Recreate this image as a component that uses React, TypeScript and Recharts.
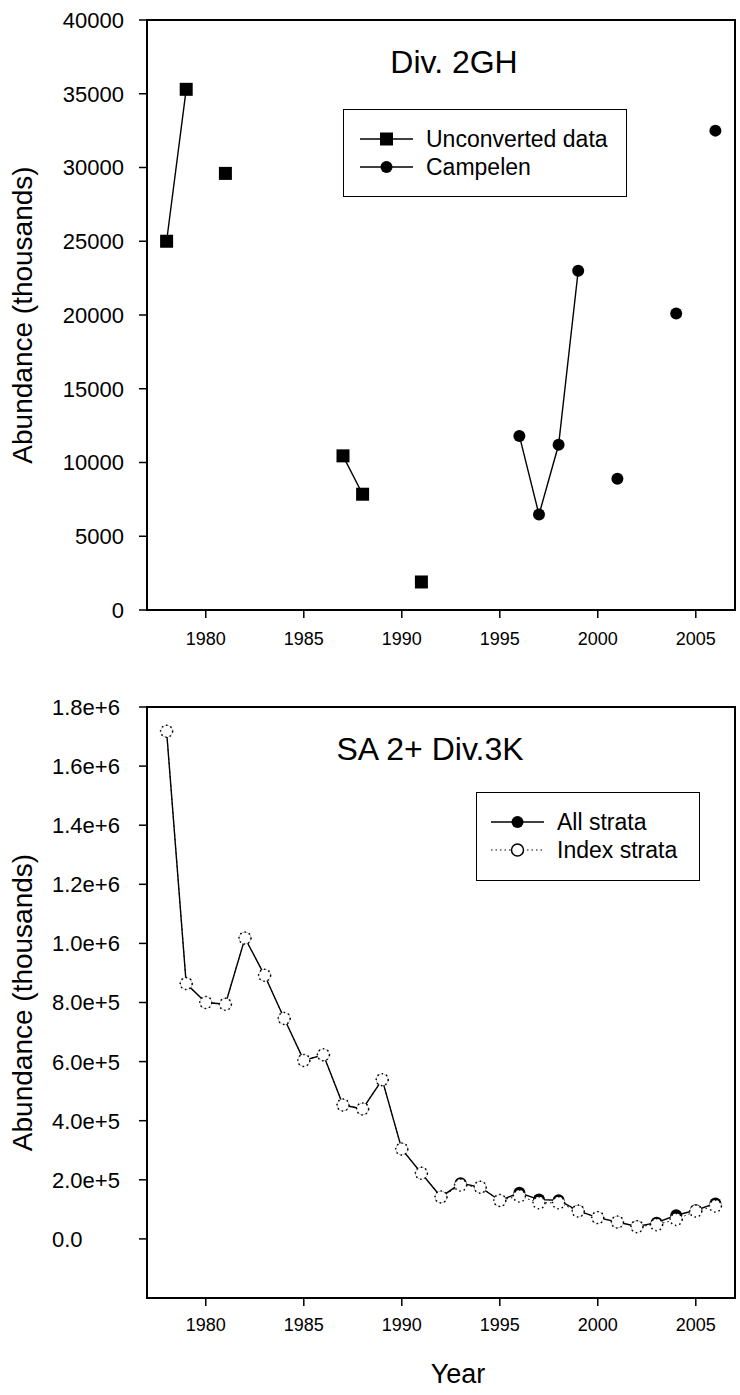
import React from "react";
import { LineChart, Line, XAxis, YAxis, ReferenceArea, Legend } from "recharts";

// Div. 2GH survey
const years2GH = [1978, 1979, 1980, 1981, 1982, 1983, 1984, 1985, 1986, 1987, 1988, 1989, 1990, 1991, 1992, 1993, 1994, 1995, 1996, 1997, 1998, 1999, 2000, 2001, 2002, 2003, 2004, 2005, 2006];
const unconverted = [25000, 35300, null, 29600, null, null, null, null, null, 10450, 7850, null, null, 1900, null, null, null, null, null, null, null, null, null, null, null, null, null, null, null];
const campelen = [null, null, null, null, null, null, null, null, null, null, null, null, null, null, null, null, null, null, 11800, 6470, 11200, 23000, null, 8900, null, null, 20100, null, 32500];

// SA 2+ Div.3K survey
const years3K = [1978, 1979, 1980, 1981, 1982, 1983, 1984, 1985, 1986, 1987, 1988, 1989, 1990, 1991, 1992, 1993, 1994, 1995, 1996, 1997, 1998, 1999, 2000, 2001, 2002, 2003, 2004, 2005, 2006];
const allStrata = [1718000, 864000, 800000, 794000, 1018000, 892000, 746000, 604000, 623000, 453000, 440000, 539000, 304000, 222000, 142000, 188000, 175000, 130000, 156000, 133000, 131000, 95000, 72000, 57000, 42000, 55000, 80000, 97000, 120000];
const indexStrata = [1718000, 864000, 800000, 794000, 1018000, 892000, 746000, 604000, 623000, 453000, 440000, 539000, 304000, 222000, 142000, 182000, 175000, 130000, 145000, 122000, 122000, 94000, 72000, 57000, 41500, 48000, 66000, 94000, 111000];

const yearTicks = [1980, 1985, 1990, 1995, 2000, 2005];
const ticks2GH = [0, 5000, 10000, 15000, 20000, 25000, 30000, 35000, 40000];
const ticks3K = [0, 200000, 400000, 600000, 800000, 1000000, 1200000, 1400000, 1600000, 1800000];

const data2GH = years2GH.map((year, i) => ({ year, unconverted: unconverted[i], campelen: campelen[i] }));
const data3K = years3K.map((year, i) => ({ year, all: allStrata[i], index: indexStrata[i] }));

const FONT = "'Liberation Sans', Arial, sans-serif";

const fmtSci = (v: number) => (v === 0 ? "0.0" : v.toExponential(1));

const SquareDot = (props: any) => {
  const { cx, cy, index } = props;
  if (cx == null || cy == null) return <g key={`sq-${index}`} />;
  return <rect key={`sq-${index}`} x={cx - 6.5} y={cy - 6.5} width={13} height={13} fill="#000" />;
};

function LegendRow({ marker, label, dotted }: { marker: "square" | "circle" | "open"; label: string; dotted?: boolean }) {
  return (
    <div style={{ display: "flex", alignItems: "center", height: 28 }}>
      <svg width={53} height={16}>
        <line x1={0} x2={53} y1={8} y2={8} stroke="#000" strokeWidth={dotted ? 1 : 1.5} strokeDasharray={dotted ? "1.5 3" : undefined} />
        {marker === "square" && <rect x={20} y={1.5} width={13} height={13} fill="#000" />}
        {marker === "circle" && <circle cx={26.5} cy={8} r={6} fill="#000" />}
        {marker === "open" && <circle cx={26.5} cy={8} r={6} fill="#fff" stroke="#000" strokeWidth={1.5} />}
      </svg>
      <span style={{ fontSize: 23, marginLeft: 13, lineHeight: 1 }}>{label}</span>
    </div>
  );
}

const legend2GH = () => (
  <div style={{ width: 284, height: 88, border: "1.5px solid #000", boxSizing: "border-box", background: "#fff", paddingTop: 15, paddingLeft: 16, fontFamily: FONT }}>
    <LegendRow marker="square" label="Unconverted data" />
    <LegendRow marker="circle" label="Campelen" />
  </div>
);

const legend3K = () => (
  <div style={{ width: 224, height: 89, border: "1.5px solid #000", boxSizing: "border-box", background: "#fff", paddingTop: 15, paddingLeft: 14, fontFamily: FONT }}>
    <LegendRow marker="circle" label="All strata" />
    <LegendRow marker="open" label="Index strata" dotted />
  </div>
);

const axisProps = { stroke: "#000", strokeWidth: 2 };
const tickLineProps = { stroke: "#000", strokeWidth: 1.5 };

const yTitle = {
  value: "Abundance (thousands)",
  angle: -90,
  position: "insideLeft" as const,
  offset: 22,
  style: { textAnchor: "middle" as const, fontSize: 28, fill: "#000", fontFamily: FONT },
};

export default function App() {
  return (
    <div style={{ position: "absolute", left: 0, top: 0, width: 740, height: 1395, background: "#fff", fontFamily: FONT }}>
      <div style={{ position: "absolute", left: 0, top: 0 }}>
        <LineChart width={740} height={660} data={data2GH} margin={{ top: 20, right: 5, bottom: 0, left: 0 }}>
          <XAxis
            dataKey="year"
            type="number"
            domain={[1977, 2007]}
            ticks={yearTicks}
            height={50}
            tickSize={8}
            tickMargin={14}
            axisLine={axisProps}
            tickLine={tickLineProps}
            tick={{ fontSize: 18, fill: "#000", fontFamily: FONT }}
          />
          <YAxis
            type="number"
            domain={[0, 40000]}
            ticks={ticks2GH}
            width={147}
            tickSize={8}
            tickMargin={15}
            axisLine={axisProps}
            tickLine={tickLineProps}
            tick={{ fontSize: 22, fill: "#000", fontFamily: FONT }}
            label={yTitle}
          />
          <ReferenceArea x1={1977} x2={2007} y1={0} y2={40000} fill="none" stroke="#000" strokeWidth={2} />
          <Legend layout="horizontal" verticalAlign="middle" align="center" content={legend2GH} wrapperStyle={{ left: 343, top: 109, width: 284, height: 88 }} />
          <Line dataKey="unconverted" stroke="#000" strokeWidth={1.4} dot={SquareDot} activeDot={false} connectNulls={false} isAnimationActive={false} />
          <Line dataKey="campelen" stroke="#000" strokeWidth={1.4} dot={{ r: 6, fill: "#000", stroke: "#000", strokeWidth: 0 }} activeDot={false} connectNulls={false} isAnimationActive={false} />
        </LineChart>
      </div>
      <div style={{ position: "absolute", left: 354, top: 46, width: 200, textAlign: "center", fontSize: 32, lineHeight: 1 }}>Div. 2GH</div>

      <div style={{ position: "absolute", left: 0, top: 660 }}>
        <LineChart width={740} height={735} data={data3K} margin={{ top: 47, right: 5, bottom: 0, left: 0 }}>
          <XAxis
            dataKey="year"
            type="number"
            domain={[1977, 2007]}
            ticks={yearTicks}
            height={97}
            tickSize={8}
            tickMargin={12}
            axisLine={axisProps}
            tickLine={tickLineProps}
            tick={{ fontSize: 18, fill: "#000", fontFamily: FONT }}
            label={{ value: "Year", position: "insideBottom", offset: 12, dx: 17, style: { fontSize: 27, fill: "#000", fontFamily: FONT } }}
          />
          <YAxis
            type="number"
            domain={[-200000, 1800000]}
            ticks={ticks3K}
            width={147}
            tickSize={8}
            tickMargin={15}
            axisLine={axisProps}
            tickLine={tickLineProps}
            tick={(p: any) => (
              <text x={p.x - 72} y={p.y} dy="0.36em" textAnchor="start" fontSize={22} fill="#000" fontFamily={FONT}>
                {fmtSci(p.payload.value)}
              </text>
            )}
            label={yTitle}
          />
          <ReferenceArea x1={1977} x2={2007} y1={-200000} y2={1800000} fill="none" stroke="#000" strokeWidth={2} />
          <Legend layout="horizontal" verticalAlign="middle" align="center" content={legend3K} wrapperStyle={{ left: 476, top: 132, width: 224, height: 89 }} />
          <Line dataKey="all" stroke="#000" strokeWidth={1.4} dot={{ r: 6, fill: "#000", stroke: "#000", strokeWidth: 0 }} activeDot={false} isAnimationActive={false} />
          <Line dataKey="index" stroke="#000" strokeWidth={1} strokeDasharray="1.5 3" dot={{ r: 6, fill: "#fff", stroke: "#000", strokeWidth: 1.5 }} activeDot={false} isAnimationActive={false} />
        </LineChart>
      </div>
      <div style={{ position: "absolute", left: 330, top: 733, width: 200, textAlign: "center", fontSize: 32, lineHeight: 1, whiteSpace: "nowrap" }}>SA 2+ Div.3K</div>
    </div>
  );
}
